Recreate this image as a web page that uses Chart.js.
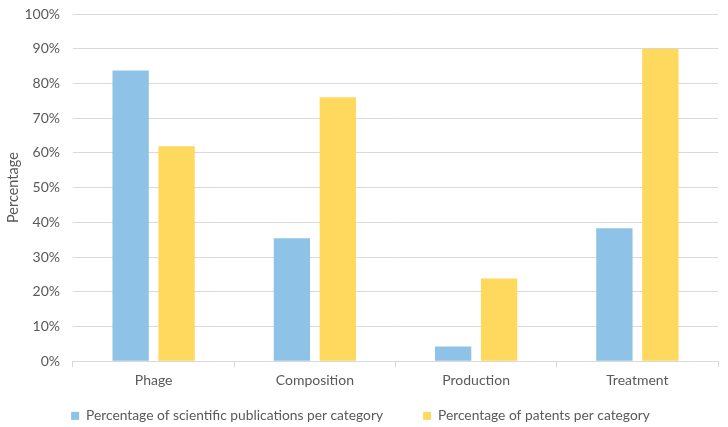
<!DOCTYPE html>
<html>
<head>
<meta charset="utf-8">
<script src="https://cdn.jsdelivr.net/npm/chart.js@4/dist/chart.umd.min.js"></script>
<style>
  html, body { margin: 0; padding: 0; background: #fff; }
  #wrap { width: 728px; height: 427px; }
</style>
</head>
<body>
<div id="wrap"><canvas id="myChart" width="728" height="427"></canvas></div>
<script>
const categories = ['Phage', 'Composition', 'Production', 'Treatment'];
const publications = [83.7, 35.4, 4.2, 38.3];
const patents = [61.9, 76.0, 23.8, 90.0];
const yTicks = [0, 10, 20, 30, 40, 50, 60, 70, 80, 90, 100];

const gray = '#595959';
const font = { family: 'Lato, sans-serif', size: 14 };

// keep the wide gap between legend items but a tighter legend box
const legendSpacing = {
  id: 'legendSpacing',
  afterInit(chart) {
    const legend = chart.legend;
    const fit = legend.fit;
    const draw = legend.draw;
    legend.fit = function () {
      fit.call(this);
      this.height = 33;
    };
    legend.draw = function () {
      const top = this.top;
      this.top = top - 25;
      draw.call(this);
      this.top = top;
    };
  }
};

new Chart(document.getElementById('myChart'), {
  type: 'bar',
  data: {
    labels: categories,
    datasets: [{
      label: 'Percentage of scientific publications per category',
      data: publications,
      backgroundColor: '#8EC3E7',
      categoryPercentage: 0.57,
      barPercentage: 0.79
    }, {
      label: 'Percentage of patents per category',
      data: patents,
      backgroundColor: '#FFD85E',
      categoryPercentage: 0.57,
      barPercentage: 0.79
    }]
  },
  plugins: [legendSpacing],
  options: {
    responsive: false,
    animation: false,
    layout: { padding: { left: 3, right: 10, top: 14, bottom: 0 } },
    plugins: {
      tooltip: { enabled: false },
      legend: {
        position: 'bottom',
        labels: {
          color: gray,
          font: { ...font, size: 13.8 },
          boxWidth: 8,
          boxHeight: 8,
          padding: 40
        }
      }
    },
    scales: {
      x: {
        grid: { display: true, drawOnChartArea: false, drawTicks: true, tickLength: 6, color: '#D9D9D9' },
        border: { color: '#D9D9D9' },
        ticks: { color: gray, font: font, padding: 5 }
      },
      y: {
        min: 0,
        max: 100,
        afterBuildTicks: axis => { axis.ticks = yTicks.map(v => ({ value: v })); },
        grid: { color: '#D9D9D9', drawTicks: true, tickLength: 13, tickColor: 'rgba(0,0,0,0)' },
        border: { display: false },
        ticks: { color: gray, font: font, padding: 0, callback: v => v + '%' },
        title: { display: true, text: 'Percentage', color: gray, font: { ...font, size: 14.5 }, padding: 2 }
      }
    }
  }
});
</script>
</body>
</html>
